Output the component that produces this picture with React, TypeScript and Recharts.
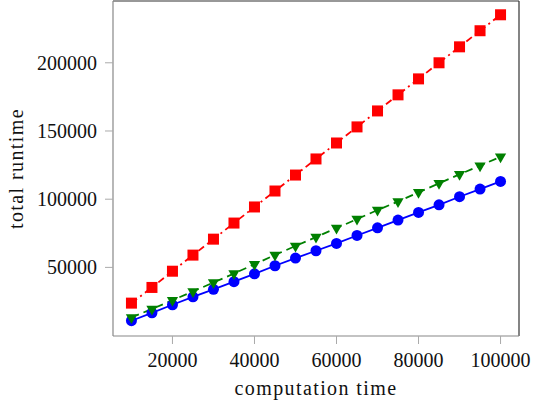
import React from "react";
import {
  LineChart,
  Line,
  XAxis,
  YAxis,
  ReferenceLine,
} from "recharts";

// computation time (x) and total runtime per method
const computationTime = [
  10000, 15000, 20000, 25000, 30000, 35000, 40000, 45000, 50000, 55000,
  60000, 65000, 70000, 75000, 80000, 85000, 90000, 95000, 100000,
];
const runtimeCircle = [
  10900, 16700, 22600, 28400, 33900, 39500, 45300, 51200, 56800, 62200,
  67600, 73400, 79000, 84700, 90300, 95900, 101800, 107400, 113000,
];
const runtimeSquare = [
  23800, 35300, 47200, 59000, 70700, 82500, 94300, 106000, 117700, 129500,
  141200, 153000, 164700, 176500, 188200, 200000, 211700, 223500, 235200,
];
const runtimeTriangle = [
  13300, 19500, 25900, 32400, 38900, 45500, 52300, 59100, 65700, 72200,
  78800, 85400, 92000, 98300, 105000, 111600, 118200, 124600, 131100,
];

const xTicks = [20000, 40000, 60000, 80000, 100000];
const yTicks = [50000, 100000, 150000, 200000];

const X_DOMAIN: [number, number] = [5500, 104500];
const Y_DOMAIN: [number, number] = [-300, 245300];

const data = computationTime.map((t, i) => ({
  t,
  circle: runtimeCircle[i],
  square: runtimeSquare[i],
  triangle: runtimeTriangle[i],
}));

const FONT = "Liberation Serif, Times New Roman, serif";

const SquareDot = (props: any) => {
  const { cx, cy, index } = props;
  const s = 11;
  return (
    <rect key={`sq-${index}`} x={cx - s / 2} y={cy - s / 2} width={s} height={s} fill="#ff0000" />
  );
};

const TriangleDot = (props: any) => {
  const { cx, cy, index } = props;
  const r = 6.5;
  const pts = [
    [cx - r * 0.866, cy - r * 0.5],
    [cx + r * 0.866, cy - r * 0.5],
    [cx, cy + r],
  ]
    .map((p) => p.join(","))
    .join(" ");
  return <polygon key={`tr-${index}`} points={pts} fill="#008000" />;
};

const tickStyle = { fill: "#111", fontSize: 20, style: { fontFamily: FONT } };
const titleStyle = { fontFamily: FONT, letterSpacing: 1.4 };

export default function App() {
  return (
    <div
      style={{
        position: "absolute",
        left: 0,
        top: 0,
        background: "#fff",
        fontFamily: FONT,
      }}
    >
      <LineChart
        width={546}
        height={406}
        data={data}
        margin={{ top: 1, right: 27, left: 0, bottom: 0 }}
        style={{ fontFamily: FONT }}
      >
        <XAxis
          dataKey="t"
          type="number"
          domain={X_DOMAIN}
          ticks={xTicks}
          allowDataOverflow
          height={70}
          tick={tickStyle}
          tickSize={8}
          tickMargin={9}
          axisLine={{ stroke: "#888", strokeWidth: 1.2 }}
          tickLine={{ stroke: "#aaa" }}
          label={{
            content: ({ viewBox }: any) => (
              <text
                x={viewBox.x + viewBox.width / 2}
                y={viewBox.y + 59}
                textAnchor="middle"
                fill="#111"
                fontSize={20}
                style={titleStyle}
              >
                computation time
              </text>
            ),
          }}
        />
        <YAxis
          type="number"
          domain={Y_DOMAIN}
          ticks={yTicks}
          allowDataOverflow
          width={113}
          tick={tickStyle}
          tickSize={8}
          tickMargin={8}
          axisLine={{ stroke: "#888", strokeWidth: 1.2 }}
          tickLine={{ stroke: "#aaa" }}
          label={{
            content: ({ viewBox }: any) => {
              const x = viewBox.x + 23;
              const y = viewBox.y + viewBox.height / 2;
              return (
                <text
                  x={x}
                  y={y}
                  transform={`rotate(-90 ${x} ${y})`}
                  textAnchor="middle"
                  fill="#111"
                  fontSize={20}
                  style={titleStyle}
                >
                  total runtime
                </text>
              );
            },
          }}
        />
        <ReferenceLine y={Y_DOMAIN[1]} stroke="#333" strokeWidth={1.2} />
        <ReferenceLine x={X_DOMAIN[1]} stroke="#333" strokeWidth={1.2} />
        <Line
          type="linear"
          dataKey="circle"
          stroke="#0000ff"
          strokeWidth={1.8}
          dot={{ r: 5.5, fill: "#0000ff", stroke: "none" }}
          isAnimationActive={false}
        />
        <Line
          type="linear"
          dataKey="square"
          stroke="#ff0000"
          strokeWidth={1.8}
          strokeDasharray="7 4 2 4"
          dot={SquareDot}
          isAnimationActive={false}
        />
        <Line
          type="linear"
          dataKey="triangle"
          stroke="#008000"
          strokeWidth={1.8}
          strokeDasharray="8 5"
          dot={TriangleDot}
          isAnimationActive={false}
        />
      </LineChart>
    </div>
  );
}
